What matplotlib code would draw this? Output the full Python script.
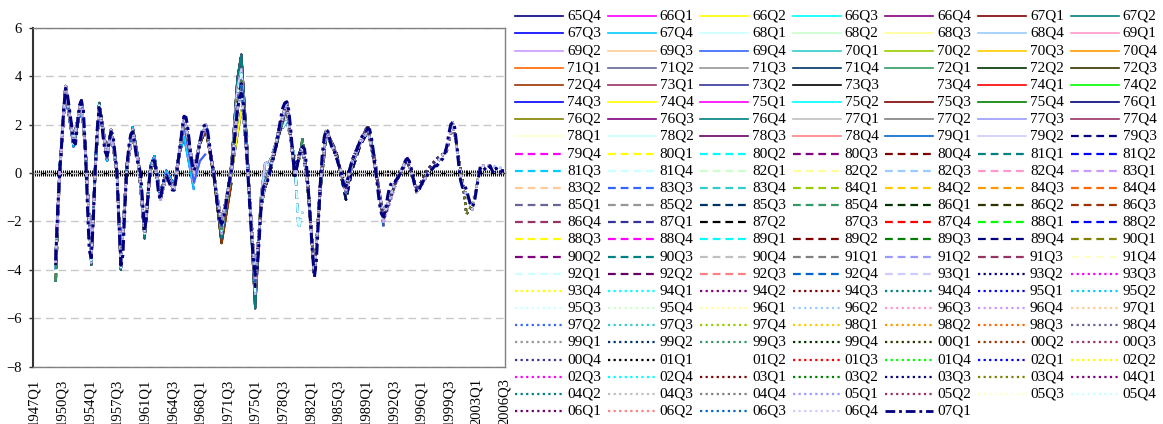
import numpy as np
import matplotlib.pyplot as plt
from matplotlib.lines import Line2D

plt.rcParams['font.family'] = ['Liberation Serif', 'DejaVu Serif']

W, H = 1163, 424

# category axis: 1947Q1 .. 2006Q3
quarters = [f"{1947 + k // 4}Q{k % 4 + 1}" for k in range(239)]
tick_every = 14

# estimate vintages 65Q4 .. 07Q1 (quarter index counted from 1947Q1)
vintage_q = list(range((1965 - 1947) * 4 + 3, (2007 - 1947) * 4 + 1))
vintages = [f"{(1947 + k // 4) % 100:02d}Q{k % 4 + 1}" for k in vintage_q]

# latest vintage (07Q1), quarterly values starting 1949Q4
final_start = 11
gap_final = [
    -3.6, -1.5, 0.0, 1.2, 2.6, 3.5, 3.2, 2.6, 2.0, 1.3,
    1.2, 2.0, 2.8, 3.0, 2.6, 1.0, -1.2, -3.2, -3.5, -2.0,
    0.1, 1.8, 2.7, 2.3, 1.5, 0.9, 0.7, 1.3, 1.7, 1.6,
    0.8, 0.0, -2.0, -3.8, -3.4, -1.5, 0.2, 1.1, 1.6, 1.7,
    1.2, 0.6, 0.3, 0.0, -1.2, -2.4, -1.8, -0.6, 0.2, 0.5,
    0.5, 0.0, -0.8, -1.1, -0.6, -0.2, -0.1, -0.3, -0.5, -0.7,
    -0.7, -0.2, 0.5, 1.1, 1.8, 2.35, 2.3, 1.8, 1.0, 0.4,
    0.1, 0.3, 0.8, 1.3, 1.7, 1.95, 2.0, 1.7, 1.1, 0.4,
    0.0, -0.7, -1.4, -1.9, -2.1, -1.9, -1.4, -0.8, -0.3, 0.1,
    0.9, 1.8, 2.6, 3.1, 3.3, 2.9, 1.8, 0.4, -1.0, -2.4,
    -3.5, -4.2, -4.0, -2.8, -1.4, -0.6, -0.5, -0.4, -0.1, 0.3,
    0.6, 0.9, 1.3, 1.8, 2.3, 2.7, 2.9, 2.95, 2.6, 1.8,
    0.8, -0.1, 0.2, 0.6, 0.9, 1.1, 1.0, 0.3, -0.8, -2.0,
    -3.3, -4.3, -3.6, -2.0, -0.4, 0.8, 1.5, 1.8, 1.7, 1.3,
    1.0, 0.9, 0.7, 0.4, 0.2, -0.2, -0.5, -0.55, -0.2, 0.2,
    0.5, 0.7, 0.9, 1.1, 1.3, 1.5, 1.6, 1.7, 1.85, 1.8,
    1.4, 0.8, 0.1, -0.6, -1.3, -1.7, -1.8, -1.5, -1.0, -0.6,
    -0.4, -0.3, -0.35, -0.2, -0.1, 0.1, 0.3, 0.5, 0.6, 0.5,
    0.2, -0.2, -0.6, -0.8, -0.7, -0.5, -0.35, -0.2, -0.1, 0.0,
    0.1, 0.2, 0.3, 0.3, 0.4, 0.5, 0.6, 0.8, 1.1, 1.6,
    2.0, 2.1, 1.9, 1.2, 0.4, -0.3, -0.6, -0.5, -0.7, -1.0,
    -1.3, -1.4, -1.2, -0.7, -0.2, 0.2, 0.3, 0.2, 0.1, 0.2,
    0.3, 0.1, 0.0, 0.2, 0.1, 0.0, 0.1, 0.1,
]

# older vintages, read at turning points (quarter index from 1947Q1)
knots = [11, 13, 16, 20, 24, 26, 29, 31, 33, 37,
         39, 42, 44, 47, 50, 53, 56, 59, 61, 64,
         67, 71, 73, 76, 81, 84, 87, 91, 95, 100,
         103, 105, 108, 112, 115, 117, 120, 124, 128, 132,
         134, 136, 139, 142, 145, 148, 153, 158, 161, 165,
         169, 173, 177, 183, 189, 194, 199, 204, 209, 212,
         215, 217, 219, 222, 226, 231, 237]

gap_6567 = [-3.3, 0.3, 3.3, 1.1, 2.8, 1.2, -3.4, 0.4, 2.9, 0.5,
            1.8, 0.2, -3.7, 0.4, 1.9, 0.5, -2.3, 0.3, 0.7, -0.9,
            0.1, -0.5, 0.6, 1.5, -0.7]
gap_6869 = [-3.5, 0.1, 3.4, 1.2, 2.9, 1.1, -3.5, 0.2, 2.8, 0.6,
            1.7, 0.1, -3.8, 0.3, 1.8, 0.4, -2.5, 0.2, 0.6, -1.0,
            0.0, -0.6, 0.5, 2.0, -0.4, 0.5, 0.8]
gap_7072 = [-3.7, -0.1, 3.5, 1.2, 3.0, 0.9, -3.6, 0.0, 2.8, 0.8,
            1.8, -0.1, -3.9, 0.1, 1.8, 0.4, -2.6, 0.1, 0.5, -1.1,
            -0.1, -0.6, 0.4, 2.2, 0.0, 1.2, 1.8, -0.1, -2.9, -0.4]
gap_7374 = [-3.8, 0.0, 3.6, 1.4, 3.0, 0.8, -3.7, 0.1, 2.9, 0.8,
            1.8, 0.0, -3.9, 0.2, 1.8, 0.3, -2.6, 0.2, 0.5, -1.1,
            -0.1, -0.7, 0.4, 2.3, 0.0, 1.3, 2.0, 0.1, -2.6, 0.0,
            1.6, 2.6, 1.5]
gap_7576 = [-3.9, 0.0, 3.6, 1.3, 3.0, 0.9, -3.8, 0.2, 2.9, 0.8,
            1.8, 0.0, -4.0, 0.3, 1.8, 0.3, -2.7, 0.2, 0.5, -1.0,
            -0.1, -0.6, 0.4, 2.3, 0.0, 1.3, 2.0, 0.0, -2.7, 0.4,
            3.9, 4.9, 1.0, -5.6, -1.2, 0.0]
gap_7779 = [-4.0, 0.0, 3.5, 1.3, 3.0, 1.0, -3.7, 0.1, 2.8, 0.7,
            1.8, 0.0, -3.9, 0.2, 1.8, 0.3, -2.5, 0.2, 0.5, -1.0,
            -0.1, -0.7, 0.4, 2.3, 0.0, 1.3, 2.0, 0.0, -2.5, 0.3,
            3.5, 4.3, 0.8, -5.0, -0.9, 0.4, 0.5, 1.5, 2.4]
gap_7981 = [-4.0, 0.1, 3.7, 1.2, 3.0, 1.0, -3.6, 0.0, 2.8, 0.8,
            1.7, 0.0, -3.9, 0.2, 1.7, 0.3, -2.5, 0.2, 0.5, -1.1,
            -0.1, -0.7, 0.4, 2.3, 0.1, 1.3, 2.0, 0.0, -2.4, 0.2,
            3.2, 4.1, 0.6, -4.9, -1.1, -0.3, 0.6, 1.6, 2.2, 0.6,
            -2.3, -1.6]
gap_8285 = [-4.5, 0.0, 3.6, 1.3, 3.0, 0.9, -3.5, 0.1, 2.7, 0.7,
            1.7, 0.0, -3.8, 0.2, 1.7, 0.4, -2.4, 0.2, 0.5, -1.1,
            -0.1, -0.7, 0.5, 2.3, 0.1, 1.3, 2.0, 0.0, -2.3, 0.1,
            2.9, 3.8, 0.5, -4.7, -1.2, -0.4, 0.4, 1.6, 2.7, 0.1,
            0.5, 1.4, -1.0, -4.1, -0.7, 1.5, 0.9]
gap_8689 = [-3.8, 0.0, 3.5, 1.3, 3.0, 1.0, -3.5, 0.1, 2.7, 0.7,
            1.7, 0.0, -3.8, 0.2, 1.7, 0.3, -2.4, 0.2, 0.5, -1.1,
            -0.1, -0.7, 0.5, 2.3, 0.1, 1.3, 2.0, 0.0, -2.2, 0.1,
            2.7, 3.7, 0.5, -4.7, -1.3, -0.6, 0.2, 1.6, 2.8, 0.2,
            0.7, 1.2, -0.7, -4.2, -0.6, 1.7, 0.9, -1.1, 0.1, 1.1,
            1.7]
gap_9092 = [-3.7, 0.0, 3.5, 1.3, 3.0, 1.0, -3.5, 0.1, 2.7, 0.7,
            1.7, 0.0, -3.8, 0.2, 1.7, 0.3, -2.4, 0.2, 0.5, -1.1,
            -0.1, -0.7, 0.5, 2.3, 0.1, 1.3, 2.0, 0.0, -2.2, 0.1,
            2.7, 3.6, 0.5, -4.6, -1.3, -0.5, 0.3, 1.7, 2.9, 0.0,
            0.6, 1.1, -0.8, -4.3, -0.5, 1.8, 0.8, -0.8, 0.3, 1.2,
            2.0, 0.4, -2.2]
gap_9396 = [-3.7, 0.0, 3.6, 1.3, 3.0, 1.0, -3.5, 0.1, 2.7, 0.7,
            1.7, 0.0, -3.8, 0.2, 1.7, 0.3, -2.4, 0.2, 0.5, -1.1,
            -0.1, -0.7, 0.5, 2.35, 0.1, 1.3, 2.0, 0.0, -2.1, 0.1,
            2.6, 3.4, 0.4, -4.4, -1.4, -0.5, 0.3, 1.8, 2.95, -0.1,
            0.6, 1.1, -0.8, -4.3, -0.4, 1.8, 0.7, -0.7, 0.4, 1.2,
            1.8, 0.2, -2.0, -0.5, 0.7, -0.9]
gap_9700 = [-3.6, 0.0, 3.5, 1.3, 3.0, 1.0, -3.5, 0.1, 2.7, 0.7,
            1.7, 0.0, -3.8, 0.2, 1.7, 0.3, -2.4, 0.2, 0.5, -1.1,
            -0.1, -0.7, 0.5, 2.35, 0.1, 1.3, 2.0, 0.0, -2.1, 0.1,
            2.6, 3.3, 0.4, -4.3, -1.4, -0.5, 0.3, 1.8, 2.95, -0.1,
            0.6, 1.1, -0.8, -4.3, -0.4, 1.8, 0.7, -0.6, 0.5, 1.3,
            1.9, 0.1, -1.9, -0.4, 0.5, -0.7, 0.1, 0.6, 0.9, 1.9]
gap_0103 = [-3.6, 0.0, 3.5, 1.3, 3.0, 1.0, -3.5, 0.1, 2.7, 0.7,
            1.7, 0.0, -3.8, 0.2, 1.7, 0.3, -2.4, 0.2, 0.5, -1.1,
            -0.1, -0.7, 0.5, 2.35, 0.1, 1.3, 2.0, 0.0, -2.1, 0.1,
            2.6, 3.3, 0.4, -4.2, -1.4, -0.5, 0.3, 1.8, 2.95, -0.1,
            0.6, 1.1, -0.8, -4.3, -0.4, 1.8, 0.7, -0.55, 0.5, 1.3,
            1.85, 0.1, -1.8, -0.35, 0.6, -0.8, -0.1, 0.4, 1.0, 2.0,
            0.7, -0.3, -1.7, -1.3, 0.3]
gap_0406 = [-3.6, 0.0, 3.5, 1.3, 3.0, 1.0, -3.5, 0.1, 2.7, 0.7,
            1.7, 0.0, -3.8, 0.2, 1.7, 0.3, -2.4, 0.2, 0.5, -1.1,
            -0.1, -0.7, 0.5, 2.35, 0.1, 1.3, 2.0, 0.0, -2.1, 0.1,
            2.6, 3.3, 0.4, -4.2, -1.4, -0.5, 0.3, 1.8, 2.95, -0.1,
            0.6, 1.1, -0.8, -4.3, -0.4, 1.8, 0.7, -0.55, 0.5, 1.3,
            1.85, 0.1, -1.8, -0.35, 0.6, -0.8, -0.1, 0.4, 1.0, 2.1,
            0.5, -0.5, -0.9, -1.5, 0.3, 0.3, 0.2]

# first vintage using each set of values
families = [("65Q4", gap_6567), ("68Q1", gap_6869), ("70Q1", gap_7072),
            ("73Q1", gap_7374), ("75Q1", gap_7576), ("77Q1", gap_7779),
            ("79Q3", gap_7981), ("82Q1", gap_8285), ("86Q1", gap_8689),
            ("90Q1", gap_9092), ("93Q1", gap_9396), ("97Q1", gap_9700),
            ("01Q1", gap_0103), ("04Q1", gap_0406)]

# Excel 2003 series colours, cycled once per line style
excel_colors = [
    '#000080', '#FF00FF', '#FFFF00', '#00FFFF', '#800080', '#800000', '#008080',
    '#0000FF', '#00CCFF', '#CCFFFF', '#CCFFCC', '#FFFF99', '#99CCFF', '#FF99CC',
    '#CC99FF', '#FFCC99', '#3366FF', '#33CCCC', '#99CC00', '#FFCC00', '#FF9900',
    '#FF6600', '#666699', '#969696', '#003366', '#339966', '#003300', '#333300',
    '#993300', '#993366', '#333399', '#000000', '#FFFFFF', '#FF0000', '#00FF00',
    '#0000FF', '#FFFF00', '#FF00FF', '#00FFFF', '#800000', '#008000', '#000080',
    '#808000', '#800080', '#008080', '#C0C0C0', '#808080', '#9999FF', '#993366',
    '#FFFFCC', '#CCFFFF', '#660066', '#FF8080', '#0066CC', '#CCCCFF',
]
line_styles = [
    dict(ls='-', lw=1.5),
    dict(ls=(0, (3.5, 2.2)), lw=1.7),
    dict(ls=(0, (1, 1.5)), lw=1.7),
    dict(ls=(0, (3.5, 1.4, 1, 1.4)), lw=2.2),
]
legend_lw = [1.2, 1.6, 1.6, 2.0]

fig = plt.figure(figsize=(W / 100, H / 100), dpi=100)
ax = fig.add_axes([33 / W, (H - 366.5) / H, (505 - 33) / W, (366.5 - 28) / H])

fam_start = [vintages.index(lab) for lab, _ in families]

for k, (lab, vq) in enumerate(zip(vintages, vintage_q)):
    color = excel_colors[k % len(excel_colors)]
    style = line_styles[k // len(excel_colors)]
    last = vq - 1
    if lab == vintages[-1]:
        xs = [final_start + j for j in range(len(gap_final)) if final_start + j <= last]
        ys = gap_final[:len(xs)]
    else:
        f = max(j for j, s in enumerate(fam_start) if s <= k)
        vals = families[f][1]
        n = min(len(vals), sum(1 for q in knots if q <= last))
        xs, ys = knots[:n], vals[:n]
    ax.plot(xs, ys, color=color, linestyle=style['ls'], lw=style['lw'],
            dash_capstyle='butt', solid_capstyle='butt', zorder=2 + k * 0.001)

ax.set_xlim(-0.5, 238.5)
ax.set_ylim(-8, 6)
ax.set_yticks(range(-8, 7, 2))
ax.set_xticks(range(0, len(quarters), tick_every))
ax.set_xticklabels(quarters[::tick_every], rotation=90, fontsize=10.5, va='top')
ax.tick_params(axis='x', length=0, pad=8.5)
ax.tick_params(axis='y', direction='out', length=3, width=1, color='#333333',
               labelsize=10.5, pad=5)

ax.yaxis.grid(True, color='#C8C8C8', linestyle=(0, (5.5, 3.5)), lw=1.0)
ax.set_axisbelow(True)
for side in ['top', 'right', 'bottom']:
    ax.spines[side].set_color('#808080')
    ax.spines[side].set_linewidth(1.0)
ax.spines['left'].set_color('#333333')
ax.spines['left'].set_linewidth(1.5)

# horizontal category axis crossing at zero, tick mark between every quarter
zero_axis = ax.secondary_xaxis(8 / 14)
zero_axis.set_xticks(np.arange(-0.5, 239, 1))
zero_axis.tick_params(direction='inout', length=4.5, width=0.75, color='black',
                      labeltop=False, labelbottom=False)
for sp in zero_axis.spines.values():
    sp.set_color('black')
    sp.set_linewidth(1.0)

# legend laid out row by row, seven entries per row
n_cols = 7
for k, lab in enumerate(vintages):
    row, col = divmod(k, n_cols)
    y = 1 - (16.2 + row * 17.17) / H
    x0 = (515 + col * 92.6) / W
    block = k // len(excel_colors)
    fig.add_artist(Line2D([x0, x0 + 48 / W], [y, y], transform=fig.transFigure,
                          color=excel_colors[k % len(excel_colors)],
                          linestyle=line_styles[block]['ls'], lw=legend_lw[block],
                          dash_capstyle='butt'))
    fig.text(x0 + 52 / W, y, lab, ha='left', va='center', fontsize=11)

fig.savefig('out.png', dpi=100)
